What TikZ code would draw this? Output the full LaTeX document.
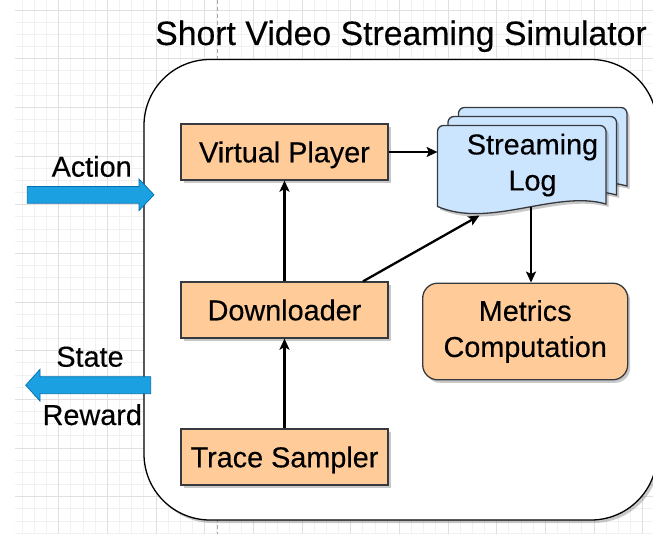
\documentclass[tikz,border=0pt]{standalone}
\usepackage{fontspec}
\setmainfont{Liberation Sans}[FakeBold=0.35]
\usetikzlibrary{arrows.meta,calc,shadows}
\definecolor{peach}{HTML}{FFCC99}
\definecolor{edgegray}{HTML}{36393D}
\definecolor{logblue}{HTML}{CCE5FF}
\definecolor{arrowblue}{HTML}{1BA1E2}
\definecolor{arrowedge}{HTML}{006EAF}
\definecolor{gridminor}{HTML}{F1F1F1}
\definecolor{gridmajor}{HTML}{E0E0E0}
\tikzset{
  bodyfont/.style={font=\fontsize{28.8}{36}\selectfont},
  titlefont/.style={font=\fontsize{33.8}{40}\selectfont},
  softshadow/.style={drop shadow={shadow xshift=2.5pt,shadow yshift=-3pt,opacity=0.3,fill=black!70}},
  modbox/.style={draw=edgegray, line width=1.3pt, fill=peach, bodyfont, inner sep=0pt,
    minimum width=207pt, minimum height=56pt, text height=20.6pt, text depth=0pt, softshadow},
  roundbox/.style={draw=edgegray, line width=1.3pt, fill=peach, bodyfont, inner sep=0pt,
    minimum width=205pt, minimum height=96.6pt, rounded corners=15pt, align=center, softshadow},
  container/.style={draw=black, line width=1.3pt, fill=white, inner sep=0pt,
    minimum width=513pt, minimum height=460.5pt, rounded corners=66pt, softshadow},
  docstyle/.style={draw=edgegray, line width=1.3pt, fill=logblue, softshadow},
  conn/.style={line width=2.3pt, -{Stealth[length=11pt,width=10pt,inset=2.5pt]}},
  bigarrow/.style={fill=arrowblue, draw=arrowedge, line width=0.7pt},
  lbl/.style={bodyfont, inner sep=0pt, anchor=base},
  gridthin/.style={draw=gridminor, line width=0.8pt},
  gridthick/.style={draw=gridmajor, line width=0.8pt},
  pagebreak/.style={draw=black!35, line width=0.8pt, dash pattern=on 4pt off 3pt},
}
\newcommand\logdoc[2]{%
  \path[docstyle] (#1,#2+81) [rounded corners=6pt] -- (#1,#2) -- (#1+168.5,#2) [sharp corners]
    -- (#1+168.5,#2+78.5) .. controls (#1+118,#2+64) and (#1+52,#2+103.5) .. (#1,#2+81) -- cycle;%
}
\begin{document}
\begin{tikzpicture}[x=1pt,y=-1pt]
\useasboundingbox (0,0) rectangle (653,534);
% background grid
\foreach \i in {1,...,53} {
  \pgfmathsetmacro\gx{10+12.1667*\i}
  \draw[gridthin] (\gx,0) -- (\gx,534);
}
\foreach \i in {0,...,43} {
  \pgfmathsetmacro\gy{10+12.1667*\i}
  \draw[gridthin] (15,\gy) -- (653,\gy);
}
\foreach \i in {4,8,...,52} {
  \pgfmathsetmacro\gx{10+12.1667*\i}
  \draw[gridthick] (\gx,0) -- (\gx,534);
}
\foreach \i in {0,4,...,40} {
  \pgfmathsetmacro\gy{10+12.1667*\i}
  \draw[gridthick] (15,\gy) -- (653,\gy);
}
\draw[pagebreak] (217.3,0) -- (217.3,534);
% container
\node[container] (sim) at (400.5,289.75) {};
\node[titlefont, inner sep=0pt, anchor=base] (title) at (401,45) {Short Video Streaming Simulator};
% modules
\node[modbox] (vp) at (284.5,152) {Virtual Player};
\node[modbox] (dl) at (284.5,310) {Downloader};
\node[modbox] (ts) at (284.5,457) {Trace Sampler};
\node[roundbox] (metrics) at (525.2,331.5) {Metrics\\Computation};
% streaming log (multi-document)
\logdoc{458.5}{107.5}
\logdoc{448}{116.5}
\logdoc{437.5}{125.5}
\node[bodyfont, inner sep=0pt, align=center] (log) at (532.5,165) {Streaming\\Log};
\coordinate (login) at (437.5,152);
\coordinate (logbot) at (479.5,215.5);
\coordinate (logout) at (531,207.5);
% connectors
\draw[conn] (vp.east) -- (login);
\draw[conn] (dl.north) -- (vp.south);
\draw[conn] (ts.north) -- (dl.south);
\draw[conn] ($(dl.north west)!0.877!(dl.north east)$) -- (logbot);
\draw[conn] (logout) -- (logout |- metrics.north);
% action / state arrows
\path[bigarrow] (27.3,186.5) -- (139,186.5) -- (139,179) -- (154,194.8) -- (139,210.6)
  -- (139,203.2) -- (27.3,203.2) -- cycle;
\path[bigarrow] (150.7,376.7) -- (40,376.7) -- (40,369.3) -- (25.7,385.2) -- (40,401.1)
  -- (40,393.7) -- (150.7,393.7) -- cycle;
\node[lbl] (action) at (91.7,176.7) {Action};
\node[lbl] (state) at (90,366.7) {State};
\node[lbl] (reward) at (92.3,425) {Reward};
\end{tikzpicture}
\end{document}
